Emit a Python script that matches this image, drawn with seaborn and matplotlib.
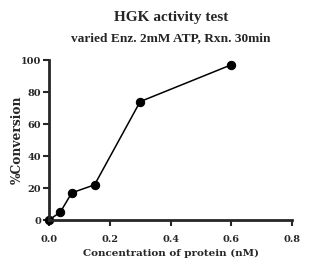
import matplotlib
matplotlib.use("Agg")
import matplotlib.pyplot as plt
import seaborn as sns
import pandas as pd

concentration = [0.0, 0.0375, 0.075, 0.15, 0.3, 0.6]
conversion = [0.0, 5.0, 17.0, 22.0, 74.0, 97.0]
x_ticks = [0.0, 0.2, 0.4, 0.6, 0.8]
y_ticks = [0, 20, 40, 60, 80, 100]

sns.set_style("ticks")
plt.rcParams['font.family'] = ['Liberation Serif', 'DejaVu Serif']
plt.rcParams['font.weight'] = 'bold'

df = pd.DataFrame({"conc": concentration, "conv": conversion})

fig = plt.figure(figsize=(3.32, 2.74), dpi=100)
ax = fig.add_axes([0.1476, 0.197, 0.732, 0.584])
sns.lineplot(data=df, x="conc", y="conv", ax=ax, color="black", marker="o",
             markersize=6, linewidth=1.1, markeredgecolor="black", clip_on=False)
for l in ax.lines:
    l.set_clip_on(False)

tick_font = dict(family='DejaVu Serif', fontsize=7, fontweight='bold')
ax.set_xlim(0, 0.8)
ax.set_ylim(0, 100)
ax.set_xticks(x_ticks)
ax.set_yticks(y_ticks)
ax.set_xticklabels([f"{v:.1f}" for v in x_ticks], **tick_font)
ax.set_yticklabels([str(v) for v in y_ticks], **tick_font)
for s in ["top", "right"]:
    ax.spines[s].set_visible(False)
for s in ["left", "bottom"]:
    ax.spines[s].set_linewidth(2)
ax.tick_params(width=1.5, length=4.5)
ax.tick_params(axis='x', pad=6)
ax.tick_params(axis='y', pad=1)
label_font = dict(family='DejaVu Serif', fontweight='bold')
ax.set_xlabel("Concentration of protein (nM)", labelpad=3.5, fontsize=7.5, **label_font)
ax.set_ylabel("%Conversion", labelpad=-2, fontsize=8.8, **label_font)

fig.text(0.515, 0.935, "HGK activity test", ha="center", va="center", fontsize=11, fontweight='bold')
fig.text(0.515, 0.86, "varied Enz. 2mM ATP, Rxn. 30min", ha="center", va="center", fontsize=9.6, fontweight='bold')

fig.savefig("out.png", dpi=100)
